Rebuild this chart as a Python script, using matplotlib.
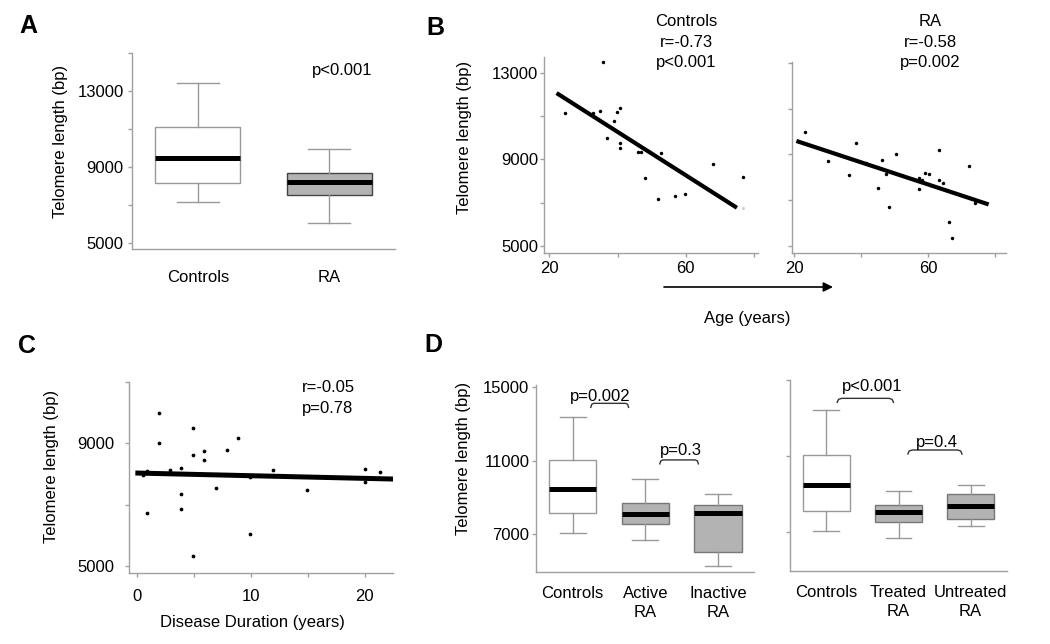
import numpy as np
import matplotlib.pyplot as plt

plt.rcParams['font.family'] = ['Liberation Sans', 'DejaVu Sans']
plt.rcParams['font.size'] = 12

W, H = 1050, 644

# ---- data ----
# box stats: whisker low, q1, median, q3, whisker high
groups_a = ['Controls', 'RA']
box_a = [[7140, 8170, 9490, 11090, 13400],
         [6050, 7510, 8230, 8700, 9960]]

ctrl_age = [24.6, 32.7, 34.9, 35.6, 36.8, 38.9, 39.9, 40.8, 40.8, 40.8,
            45.9, 46.9, 47.9, 51.9, 52.7, 56.9, 59.9, 67.9, 76.8]
ctrl_tl = [11160, 11130, 11220, 13480, 10000, 10770, 11200, 11360, 9740, 9530,
           9340, 9330, 8160, 7160, 9280, 7330, 7420, 8780, 8180]
ctrl_fit_age = [22.6, 74.5]
ctrl_fit_tl = [12005, 6816]

ra_age = [23.3, 30.2, 36.2, 38.3, 41.4, 45.1, 46.2, 47.3, 48.2, 50.3, 57.2,
          57.2, 58.3, 59.2, 60.2, 63.2, 63.3, 64.3, 66.2, 67.2, 72.1, 74.1]
ra_tl = [9990, 8720, 8100, 9480, 8610, 7545, 8770, 8140, 6700, 9010, 7950,
         7470, 7865, 8185, 8140, 9175, 7895, 7735, 6030, 5320, 8490, 6860]
ra_fit_age = [21.2, 77.5]
ra_fit_tl = [9553, 6833]

dur = [0.53, 0.88, 0.88, 1.94, 1.94, 2.93, 3.93, 3.93, 3.93, 4.9, 4.9, 4.9,
       5.92, 5.92, 6.95, 7.95, 8.91, 9.97, 9.97, 11.96, 14.99, 20.03, 20.03, 21.4]
dur_tl = [7965, 8106, 6711, 9992, 9022, 8139, 8204, 7354, 6842, 9501, 8619, 5327,
          8738, 8466, 7550, 8771, 9164, 7888, 6035, 8139, 7485, 8150, 7725, 8052]
dur_fit = [0.1, 22.6]
dur_fit_tl = [8030, 7834]

groups_d1 = ['Controls', 'Active\nRA', 'Inactive\nRA']
box_d1 = [[7073, 8125, 9485, 11064, 13404],
          [6674, 7544, 8089, 8687, 9993],
          [5259, 6021, 8125, 8578, 9177]]
groups_d2 = ['Controls', 'Treated\nRA', 'Untreated\nRA']
box_d2 = [[7089, 8123, 9492, 11088, 13421],
          [6685, 7545, 8088, 8457, 9158],
          [7352, 7702, 8387, 9035, 9492]]

GRID = '#a0a0a0'
FILL = '#b3b3b3'

fig = plt.figure(figsize=(10.5, 6.44), dpi=100)


def axes_px(x0, y0, x1, y1):
    ax = fig.add_axes([x0 / W, 1 - y1 / H, (x1 - x0) / W, (y1 - y0) / H])
    for s in ['top', 'right']:
        ax.spines[s].set_visible(False)
    for s in ['left', 'bottom']:
        ax.spines[s].set_color(GRID)
        ax.spines[s].set_linewidth(1.0)
    ax.tick_params(color=GRID, width=1, length=3, labelsize=12)
    return ax


def fig_text(x, y, s, **kw):
    fig.text(x / W, 1 - y / H, s, ha='center', va='center', **kw)


def boxes(ax, stats, edges, capw):
    st = [dict(whislo=a, q1=b, med=c, q3=d, whishi=e, fliers=[])
          for a, b, c, d, e in stats]
    bp = ax.bxp(st, positions=np.arange(1, len(st) + 1), widths=0.65,
                patch_artist=True, showfliers=False, capwidths=capw,
                medianprops=dict(color='k', lw=3.6, solid_capstyle='butt'),
                whiskerprops=dict(color='#999999', lw=1),
                capprops=dict(color='#999999', lw=1))
    for i, (p, ec) in enumerate(zip(bp['boxes'], edges)):
        p.set_facecolor('white' if i == 0 else FILL)
        p.set_edgecolor(ec)
        p.set_linewidth(1)
    ax.set_xlim(0.5, len(st) + 0.5)


def bracket(ax, x0, x1, y, h):
    d = (x1 - x0) * 0.08
    ax.plot([x0, x0 + d * 0.3, x0 + d, x1 - d, x1 - d * 0.3, x1],
            [y - h, y - h * 0.25, y, y, y - h * 0.25, y - h],
            color='#333333', lw=1)


# ---- A ----
axA = axes_px(132, 53, 395, 249)
boxes(axA, box_a, ['#999999', '#444444'], 0.32)
axA.set_ylim(4680, 15000)
axA.set_yticks([5000, 7000, 9000, 11000, 13000, 15000])
axA.set_yticklabels(['5000', '', '9000', '', '13000', ''])
axA.set_xticklabels(groups_a)
axA.tick_params(axis='x', length=0, pad=15)
axA.tick_params(axis='y', pad=3)
fig_text(60, 141, 'Telomere length (bp)', rotation=90)
fig_text(342, 71, 'p<0.001')
fig_text(28, 26, 'A', fontsize=18, fontweight='bold')

# ---- B ----
axB1 = axes_px(544, 57, 758, 253)
axB1.plot(ctrl_age, ctrl_tl, 'o', ms=2.5, color='k', mec='none')
axB1.plot([76.9], [6748], 'o', ms=2.2, color='#d0d0d0', mec='none')
axB1.plot(ctrl_fit_age, ctrl_fit_tl, color='k', lw=3)
axB1.set_xlim(18.4, 81.2)
axB1.set_ylim(4680, 13720)
axB1.set_xticks([20, 40, 60, 80])
axB1.set_xticklabels(['20', '', '60', ''])
axB1.set_yticks([5000, 7000, 9000, 11000, 13000])
axB1.set_yticklabels(['5000', '', '9000', '', '13000'])
axB1.tick_params(axis='x', pad=3)
axB1.tick_params(axis='y', pad=1)

axB2 = axes_px(791.7, 61.7, 1005.7, 253)
axB2.plot(ra_age, ra_tl, 'o', ms=2.5, color='k', mec='none')
axB2.plot(ra_fit_age, ra_fit_tl, color='k', lw=3)
axB2.set_xlim(19.2, 83.2)
axB2.set_ylim(4680, 13050)
axB2.set_xticks([20, 40, 60, 80])
axB2.set_xticklabels(['20', '', '60', ''])
axB2.set_yticks([5000, 7000, 9000, 11000, 13000])
axB2.set_yticklabels([])
axB2.tick_params(axis='x', pad=3)

fig_text(465, 137, 'Telomere length (bp)', rotation=90)
for i, s in enumerate(['Controls', 'r=-0.73', 'p<0.001']):
    fig_text(686, 22 + 20.5 * i, s)
for i, s in enumerate(['RA', 'r=-0.58', 'p=0.002']):
    fig_text(930, 22 + 20.5 * i, s)
fig_text(747, 318, 'Age (years)')
axB1.annotate('', xy=(833 / W, 1 - 287 / H), xytext=(664 / W, 1 - 287 / H),
              xycoords='figure fraction', textcoords='figure fraction',
              arrowprops=dict(arrowstyle='-|>', color='k', lw=1.2,
                              mutation_scale=14, shrinkA=0, shrinkB=0))
fig_text(435, 28, 'B', fontsize=18, fontweight='bold')

# ---- C ----
axC = axes_px(129.3, 381.7, 393, 573.3)
axC.plot(dur, dur_tl, 'o', ms=2.7, color='k', mec='none')
axC.plot(dur_fit, dur_fit_tl, color='k', lw=3.6)
axC.set_xlim(-0.65, 22.5)
axC.set_ylim(4750, 11020)
axC.set_xticks([0, 5, 10, 15, 20])
axC.set_xticklabels(['0', '', '10', '', '20'])
axC.set_yticks([5000, 7000, 9000, 11000])
axC.set_yticklabels(['5000', '', '9000', ''])
axC.tick_params(axis='x', pad=8.5)
axC.tick_params(axis='y', pad=8)
fig_text(52, 466, 'Telomere length (bp)', rotation=90)
fig_text(328, 388, 'r=-0.05')
fig_text(328, 408, 'p=0.78')
fig_text(252, 622, 'Disease Duration (years)')
fig_text(27, 346, 'C', fontsize=18, fontweight='bold')

# ---- D ----
axD1 = axes_px(536.3, 385, 754.3, 572)
boxes(axD1, box_d1, ['#999999', '#777777', '#777777'], 0.36)
axD1.set_ylim(4934, 15130)
axD1.set_yticks([7000, 11000, 15000])
axD1.set_yticklabels(['7000', '11000', '15000'])
axD1.set_xticklabels(groups_d1, linespacing=1.35)
axD1.tick_params(axis='x', length=0, pad=10)
axD1.tick_params(axis='y', pad=2)
bracket(axD1, 1.25, 1.77, 14130, 220)
bracket(axD1, 2.2, 2.73, 11045, 215)
fig_text(600, 397, 'p=0.002')
fig_text(680.5, 450, 'p=0.3')

axD2 = axes_px(790.3, 380, 1006.7, 571.3)
boxes(axD2, box_d2, ['#999999', '#777777', '#777777'], 0.36)
axD2.set_ylim(4947, 15018)
axD2.set_yticks([7000, 11000, 15000])
axD2.set_yticklabels([])
axD2.set_xticklabels(groups_d2, linespacing=1.35)
axD2.tick_params(axis='x', length=0, pad=10)
bracket(axD2, 1.15, 1.93, 14052, 210)
bracket(axD2, 2.13, 2.88, 11333, 210)
fig_text(871.7, 386, 'p<0.001')
fig_text(937, 442, 'p=0.4')

fig_text(463.5, 458, 'Telomere length (bp)', rotation=90)
fig_text(433, 345, 'D', fontsize=18, fontweight='bold')

fig.savefig('out.png', dpi=100)
